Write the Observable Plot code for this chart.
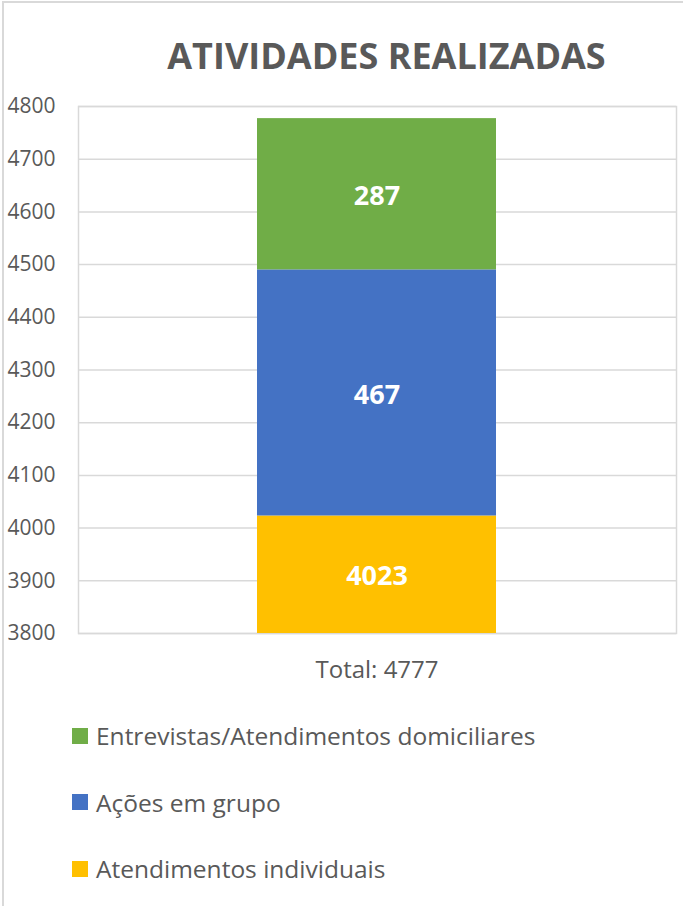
<!DOCTYPE html>
<html>
<head>
<meta charset="utf-8">
<script src="https://cdn.jsdelivr.net/npm/d3@7"></script>
<script src="https://cdn.jsdelivr.net/npm/@observablehq/plot@0.6"></script>
<style>
  html, body { margin: 0; padding: 0; background: #fff; }
  body { width: 683px; height: 906px; position: relative; overflow: hidden; font-family: "Open Sans", sans-serif; color: #595959; }
  #frame { position: absolute; left: 2px; top: 1px; width: 760px; height: 960px; border: 2px solid #d9d9d9; box-sizing: border-box; }
  #title { position: absolute; left: 0; width: 773px; top: 0; height: 86px; text-align: center; line-height: 112px; font-weight: 700; font-size: 36px; color: #595959; white-space: nowrap; }
  #chart { position: absolute; left: 0; top: 86px; }
  #legend { position: absolute; left: 72px; top: 703px; }
  .item { position: absolute; left: 0; height: 30px; display: flex; align-items: center; white-space: nowrap; font-size: 24.5px; color: #595959; }
  .sw { width: 16px; height: 16px; margin-right: 8px; flex: none; }
</style>
</head>
<body>
<div id="frame"></div>
<div id="title">ATIVIDADES REALIZADAS</div>
<div id="chart"></div>
<div id="legend"></div>
<script>
const categories = ["Total: 4777"];
const series = ["Atendimentos individuais", "Ações em grupo", "Entrevistas/Atendimentos domiciliares"];
const values = [4023, 467, 287];
const colors = ["#FFC000", "#4472C4", "#70AD47"];
const yTicks = [3800, 3900, 4000, 4100, 4200, 4300, 4400, 4500, 4600, 4700, 4800];

const yMin = yTicks[0], yMax = yTicks[yTicks.length - 1];

// stacked segments
let acc = 0;
const rows = series.map((s, i) => {
  const y1 = acc, y2 = acc + values[i];
  acc = y2;
  return { cat: categories[0], series: s, value: values[i], y1, y2, ymid: (Math.max(y1, yMin) + Math.min(y2, yMax)) / 2 };
});

const chart = Plot.plot({
  width: 683,
  height: 614,
  marginTop: 20,
  marginBottom: 67,
  marginLeft: 78,
  marginRight: 7,
  style: { fontFamily: "'Open Sans', sans-serif", color: "#595959", background: "transparent" },
  x: { domain: categories, paddingInner: 0.2, paddingOuter: 0.6, label: null },
  y: { domain: [yMin, yMax], ticks: yTicks, label: null },
  color: { domain: series, range: colors },
  marks: [
    Plot.gridY(yTicks, { stroke: "#d9d9d9", strokeOpacity: 1, strokeWidth: 1.5 }),
    Plot.frame({ stroke: "#d9d9d9", strokeWidth: 1.5 }),
    Plot.barY(rows, { x: "cat", y1: "y1", y2: "y2", fill: "series", clip: true }),
    Plot.text(rows, { x: "cat", y: "ymid", text: d => String(d.value), fill: "white", fontWeight: 700, fontSize: 27, dy: 2 }),
    Plot.axisY({ ticks: yTicks, tickSize: 0, tickPadding: 71, textAnchor: "start", fontSize: 21, tickFormat: d => String(d), fill: "#595959", label: null }),
    Plot.axisX({ tickSize: 0, tickPadding: 27, fontSize: 24, fill: "#595959", label: null })
  ]
});
document.getElementById("chart").appendChild(chart);

const legend = document.getElementById("legend");
series.slice().reverse().forEach((s, i) => {
  const idx = series.indexOf(s);
  const item = document.createElement("div");
  item.className = "item";
  item.style.top = (i * 66.5 + 17.5) + "px";
  const sw = document.createElement("span");
  sw.className = "sw";
  sw.style.background = colors[idx];
  const t = document.createElement("span");
  t.textContent = s;
  item.appendChild(sw);
  item.appendChild(t);
  legend.appendChild(item);
});
</script>
</body>
</html>
